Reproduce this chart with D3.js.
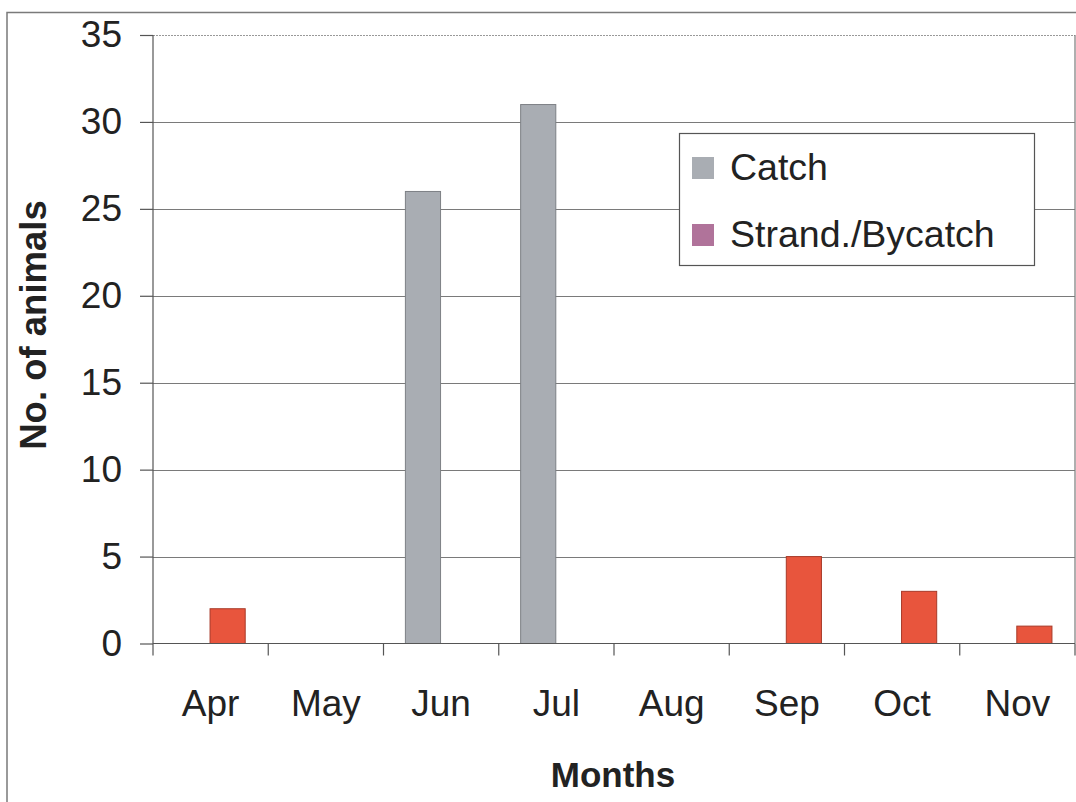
<!DOCTYPE html>
<html>
<head>
<meta charset="utf-8">
<script src="https://cdn.jsdelivr.net/npm/d3@7"></script>
<style>
  html, body { margin: 0; padding: 0; background: #fff; }
  svg { display: block; font-family: "Liberation Sans", Arial, sans-serif; }
</style>
</head>
<body>
<svg id="chart" width="1076" height="802"></svg>
<script>
const months = ["Apr", "May", "Jun", "Jul", "Aug", "Sep", "Oct", "Nov"];
const seriesNames = ["Catch", "Strand./Bycatch"];
const catchValues = [0, 0, 26, 31, 0, 0, 0, 0];
const strandValues = [2, 0, 0, 0, 0, 5, 3, 1];
const yTicks = [0, 5, 10, 15, 20, 25, 30, 35];
const barColors = ["#a9adb3", "#e8553d"];
const barStrokes = ["#7d8085", "#a83a28"];
const legendColors = ["#a9adb3", "#b0739a"];

const data = months.map((m, i) => ({ month: m, values: [catchValues[i], strandValues[i]] }));

const svg = d3.select("#chart");
const W = 1076, H = 802;
const plot = { left: 153, right: 1075, top: 35, bottom: 643.5 };
const textColor = "#222";

// Outer frame
svg.append("rect")
  .attr("x", 7).attr("y", 12.5)
  .attr("width", W + 20).attr("height", H + 20)
  .attr("fill", "none").attr("stroke", "#7a7a7a").attr("stroke-width", 1.5);

const x0 = d3.scaleBand().domain(months).range([plot.left, plot.right]).padding(0);
const bw = x0.bandwidth();
const x1 = d3.scaleBand().domain(seriesNames).range([bw * 0.19, bw * 0.8]).padding(0);
const y = d3.scaleLinear().domain([0, 35]).range([plot.bottom, plot.top]);

// Gridlines
svg.append("g").selectAll("line")
  .data(yTicks.filter(t => t > 0))
  .join("line")
  .attr("x1", plot.left).attr("x2", plot.right)
  .attr("y1", d => Math.round(y(d)) + 0.5).attr("y2", d => Math.round(y(d)) + 0.5)
  .attr("stroke", d => d === 35 ? "#999" : "#7a7a7a")
  .attr("stroke-width", 1.2)
  .attr("stroke-dasharray", d => d === 35 ? "2,1" : null);

// Right border of plot
svg.append("line")
  .attr("x1", plot.right).attr("x2", plot.right)
  .attr("y1", plot.top).attr("y2", plot.bottom)
  .attr("stroke", "#7a7a7a").attr("stroke-width", 1.2);

// Bars
const groups = svg.append("g").selectAll("g")
  .data(data).join("g")
  .attr("transform", d => `translate(${x0(d.month)},0)`);

groups.selectAll("rect")
  .data(d => d.values.map((v, i) => ({ key: seriesNames[i], value: v, i })).filter(e => e.value > 0))
  .join("rect")
  .attr("x", d => x1(d.key))
  .attr("width", x1.bandwidth())
  .attr("y", d => y(d.value))
  .attr("height", d => y(0) - y(d.value))
  .attr("fill", d => barColors[d.i])
  .attr("stroke", d => barStrokes[d.i])
  .attr("stroke-width", 1);

// Y axis
const yAxis = d3.axisLeft(y).tickValues(yTicks).tickSize(13).tickPadding(18);
const gy = svg.append("g").attr("transform", `translate(${plot.left},0)`).call(yAxis);
gy.select(".domain").remove();
gy.selectAll(".tick line").attr("stroke", "#555").attr("stroke-width", 1.2);
gy.selectAll(".tick text")
  .attr("font-size", 37).attr("fill", textColor)
  .attr("font-family", "Liberation Sans, Arial, sans-serif");
svg.append("line")
  .attr("x1", plot.left).attr("x2", plot.left)
  .attr("y1", plot.top).attr("y2", plot.bottom + 12)
  .attr("stroke", "#555").attr("stroke-width", 1.2);

// X axis
svg.append("line")
  .attr("x1", plot.left).attr("x2", plot.right)
  .attr("y1", y(0)).attr("y2", y(0))
  .attr("stroke", "#555").attr("stroke-width", 1.2);
svg.append("g").selectAll("line")
  .data(months.slice(1).concat(["__end"]))
  .join("line")
  .attr("x1", d => d === "__end" ? plot.right : x0(d))
  .attr("x2", d => d === "__end" ? plot.right : x0(d))
  .attr("y1", y(0)).attr("y2", y(0) + 12)
  .attr("stroke", "#555").attr("stroke-width", 1.2);
svg.append("g").selectAll("text")
  .data(months).join("text")
  .attr("x", d => x0(d) + bw / 2)
  .attr("y", 716)
  .attr("text-anchor", "middle")
  .attr("font-size", 37)
  .attr("fill", textColor)
  .text(d => d);

// Axis titles
svg.append("text")
  .attr("x", 613).attr("y", 787)
  .attr("text-anchor", "middle")
  .attr("font-size", 35).attr("font-weight", "bold")
  .attr("fill", textColor)
  .text("Months");
svg.append("text")
  .attr("transform", "translate(46,325) rotate(-90)")
  .attr("text-anchor", "middle")
  .attr("font-size", 36.5).attr("font-weight", "bold")
  .attr("fill", textColor)
  .text("No. of animals");

// Legend
const legend = svg.append("g");
legend.append("rect")
  .attr("x", 679.5).attr("y", 133.5)
  .attr("width", 355).attr("height", 132)
  .attr("fill", "#fff").attr("stroke", "#555").attr("stroke-width", 1.2);
const items = legend.selectAll("g.item")
  .data(seriesNames).join("g").attr("class", "item")
  .attr("transform", (d, i) => `translate(692,${157 + i * 67})`);
items.append("rect")
  .attr("width", 22).attr("height", 22)
  .attr("fill", (d, i) => legendColors[i]);
items.append("text")
  .attr("x", 38).attr("y", 23)
  .attr("font-size", 37.5).attr("fill", textColor)
  .text(d => d);
</script>
</body>
</html>
